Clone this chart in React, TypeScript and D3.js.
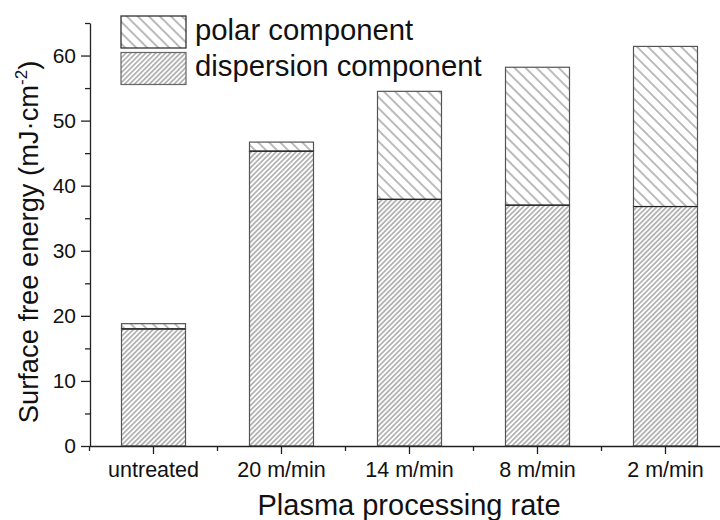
import React, { useEffect, useRef } from "react";
import * as d3 from "d3";

const categories = ["untreated", "20 m/min", "14 m/min", "8 m/min", "2 m/min"];
const dispersion = [18.0, 45.3, 37.9, 37.0, 36.8];
const polar = [0.8, 1.4, 16.6, 21.2, 24.6];
const yMajorTicks = [0, 10, 20, 30, 40, 50, 60];
const yMinorTicks = [5, 15, 25, 35, 45, 55, 65];
const seriesNames = ["polar component", "dispersion component"];

export default function App() {
  const ref = useRef<SVGSVGElement>(null);

  useEffect(() => {
    const width = 720;
    const height = 520;
    const svg = d3.select(ref.current);
    svg.selectAll("*").remove();
    svg.attr("width", width).attr("height", height);

    const font = "Liberation Sans, Arial, sans-serif";
    const defs = svg.append("defs");

    // hatch patterns
    const hatch = (id: string, gap: number, angle: number) => {
      const p = defs
        .append("pattern")
        .attr("id", id)
        .attr("patternUnits", "userSpaceOnUse")
        .attr("width", gap)
        .attr("height", gap)
        .attr("patternTransform", `rotate(${angle})`);
      p.append("rect").attr("width", gap).attr("height", gap).attr("fill", "#fff");
      p.append("line")
        .attr("x1", gap / 2)
        .attr("x2", gap / 2)
        .attr("y1", 0)
        .attr("y2", gap)
        .attr("stroke", "#858585")
        .attr("stroke-width", 1.1);
    };
    hatch("disp", 3.5, 45);
    hatch("polar", 7.8, -45);

    const x = d3
      .scaleBand()
      .domain(categories)
      .range([89.5, 729.5])
      .paddingInner(0.5)
      .paddingOuter(0.25);

    const y = d3.scaleLinear().domain([0, 65]).range([446, 23]);

    const g = svg.append("g");

    // bars
    categories.forEach((c, i) => {
      const x0 = x(c)!;
      const d = dispersion[i];
      const t = d + polar[i];
      g.append("rect")
        .attr("x", x0)
        .attr("y", y(d))
        .attr("width", x.bandwidth())
        .attr("height", y(0) - y(d))
        .attr("fill", "url(#disp)")
        .attr("stroke", "#555")
        .attr("stroke-width", 1.2);
      g.append("rect")
        .attr("x", x0)
        .attr("y", y(t))
        .attr("width", x.bandwidth())
        .attr("height", y(d) - y(t))
        .attr("fill", "url(#polar)")
        .attr("stroke", "#555")
        .attr("stroke-width", 1.2);
      g.append("line")
        .attr("x1", x0)
        .attr("x2", x0 + x.bandwidth())
        .attr("y1", y(d))
        .attr("y2", y(d))
        .attr("stroke", "#222")
        .attr("stroke-width", 1.2);
    });

    // y axis
    const yAxis = g
      .append("g")
      .attr("transform", "translate(90,0)")
      .call(d3.axisLeft(y).tickValues(yMajorTicks).tickSize(9).tickSizeOuter(0).tickPadding(5));
    g.append("g")
      .attr("transform", "translate(90,0)")
      .call(d3.axisLeft(y).tickValues(yMinorTicks).tickSize(5).tickFormat(() => ""))
      .call((s) => s.select(".domain").remove());
    yAxis.selectAll("text").attr("font-size", 21).attr("font-family", font).attr("fill", "#111");

    // x axis
    const xAxis = g
      .append("g")
      .attr("transform", `translate(0,${y(0)})`)
      .call(d3.axisBottom(x).tickSize(8).tickSizeOuter(0).tickPadding(8));
    xAxis.selectAll("text").attr("font-size", 21.5).attr("font-family", font).attr("fill", "#111");
    const bounds = categories.map((c) => x(c)! - x.step() * 0.25);
    g.selectAll(".xminor")
      .data(bounds)
      .join("line")
      .attr("x1", (d) => d)
      .attr("x2", (d) => d)
      .attr("y1", y(0))
      .attr("y2", y(0) + 5)
      .attr("stroke", "#222")
      .attr("stroke-width", 1.3);

    svg.selectAll(".domain, .tick line").attr("stroke", "#222").attr("stroke-width", 1.3);

    // axis titles
    svg
      .append("text")
      .attr("x", 409)
      .attr("y", 515)
      .attr("text-anchor", "middle")
      .attr("font-family", font)
      .attr("font-size", 29)
      .attr("fill", "#111")
      .text("Plasma processing rate");

    const yt = svg
      .append("text")
      .attr("transform", "translate(38,242) rotate(-90)")
      .attr("text-anchor", "middle")
      .attr("font-family", font)
      .attr("font-size", 27.3)
      .attr("fill", "#111");
    yt.append("tspan").text("Surface free energy (mJ\u00b7cm");
    yt.append("tspan").attr("font-size", 17).attr("dy", -11).text("-2");
    yt.append("tspan").attr("dy", 11).text(")");

    // legend
    const leg = svg.append("g").attr("transform", "translate(121,16)");
    seriesNames.forEach((name, i) => {
      leg.append("rect")
        .attr("x", 0)
        .attr("y", i * 36.5)
        .attr("width", 65)
        .attr("height", 32)
        .attr("fill", i === 0 ? "url(#polar)" : "url(#disp)")
        .attr("stroke", i === 0 ? "#222" : "#666")
        .attr("stroke-width", 1.2);
      leg.append("text")
        .attr("x", 74)
        .attr("y", i * 35.5 + 24)
        .attr("font-family", font)
        .attr("font-size", 29.3)
        .attr("fill", "#111")
        .text(name);
    });
  }, []);

  return <svg ref={ref} style={{ position: "absolute", left: 0, top: 0 }} />;
}
